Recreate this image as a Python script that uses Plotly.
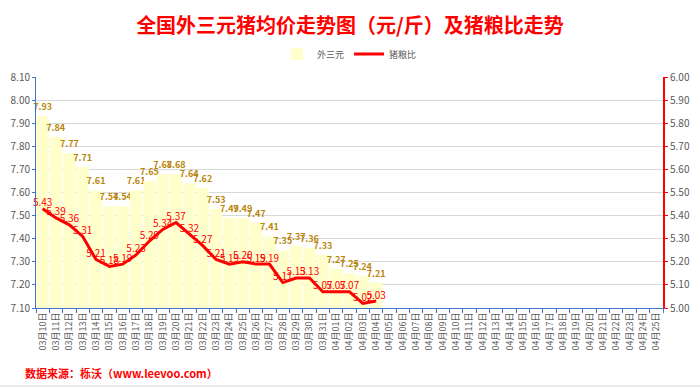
import plotly.graph_objects as go

dates = [f"03月{d:02d}日" for d in range(10, 32)] + [f"04月{d:02d}日" for d in range(1, 26)]
price = [7.93, 7.84, 7.77, 7.71, 7.61, 7.54, 7.54, 7.61, 7.65, 7.68, 7.68, 7.64, 7.62,
         7.53, 7.49, 7.49, 7.47, 7.41, 7.35, 7.37, 7.36, 7.33, 7.27, 7.25, 7.24, 7.21]
ratio = [5.43, 5.39, 5.36, 5.31, 5.21, 5.18, 5.19, 5.23, 5.29, 5.34, 5.37, 5.32, 5.27,
         5.21, 5.19, 5.20, 5.19, 5.19, 5.11, 5.13, 5.13, 5.07, 5.07, 5.07, 5.02, 5.03]

FONT = "Noto Sans CJK SC"

fig = go.Figure()
fig.add_trace(go.Bar(
    x=dates[:len(price)], y=price, name="外三元",
    marker=dict(color="#FFFFCC", line=dict(width=0)),
    text=[f"{v:.2f}" for v in price], textposition="outside",
    constraintext="none",
    textfont=dict(color="#B8860B", size=9, family=FONT, weight="bold"),
    cliponaxis=False,
))
fig.add_trace(go.Scatter(
    x=dates[:len(ratio)], y=ratio, name="猪粮比", yaxis="y2",
    mode="lines+text", line=dict(color="#FF0000", width=3),
    text=[f"{v:.2f}" for v in ratio], textposition="top center",
    textfont=dict(color="#FF0000", size=10, family=FONT),
    cliponaxis=False,
))

fig.update_layout(
    width=700, height=389,
    margin=dict(l=36, r=37, t=77, b=81, autoexpand=False),
    paper_bgcolor="white", plot_bgcolor="white",
    font=dict(family=FONT, color="#595959", size=9),
    title=dict(text="<b>全国外三元猪均价走势图（元/斤）及猪粮比走势</b>",
               x=0.5, xanchor="center", yref="container", y=0.932, yanchor="middle",
               font=dict(size=20, color="#FF0000", family=FONT)),
    legend=dict(orientation="h", x=0.5, xanchor="center", yref="container", y=0.861, yanchor="middle",
                font=dict(size=9, color="#595959"), traceorder="normal", itemwidth=30),
    bargap=0.08,
    showlegend=True,
    xaxis=dict(type="category", categoryorder="array", categoryarray=dates,
               tickangle=-90, tickfont=dict(size=9, color="#595959"),
               showline=True, linecolor="#4472C4", linewidth=1,
               ticks="outside", tickson="boundaries", ticklen=4, tickcolor="#4472C4",
               showgrid=False, range=[-0.5, len(dates) - 0.5], automargin=False),
    yaxis=dict(range=[7.1, 8.1], dtick=0.1, tickformat=".2f",
               showgrid=True, gridcolor="#D9D9D9", gridwidth=1,
               showline=True, linecolor="#4472C4", linewidth=1,
               ticks="outside", ticklen=3, tickcolor="#4472C4",
               tickfont=dict(size=10, color="#595959"), zeroline=False, automargin=False),
    yaxis2=dict(range=[5.0, 6.0], dtick=0.1, tickformat=".2f", overlaying="y", side="right",
                showgrid=False, showline=True, linecolor="#FF0000", linewidth=2,
                ticks="outside", ticklen=3, tickcolor="#FF0000",
                tickfont=dict(size=10, color="#595959"), zeroline=False, automargin=False),
)

fig.add_annotation(text="<b>数据来源：栎沃（www.leevoo.com）</b>", xref="paper", yref="paper",
                   x=-0.021, y=-0.28, xanchor="left", yanchor="middle", showarrow=False,
                   font=dict(size=11, color="#FF0000", family=FONT))
fig.add_shape(type="line", xref="paper", yref="paper", x0=-0.06, x1=1.06, y0=-0.338, y1=-0.338,
              line=dict(color="#D9D9D9", width=1))

fig.write_html("out.html", config={"displayModeBar": False},
               post_script="document.body.style.margin='0';")
